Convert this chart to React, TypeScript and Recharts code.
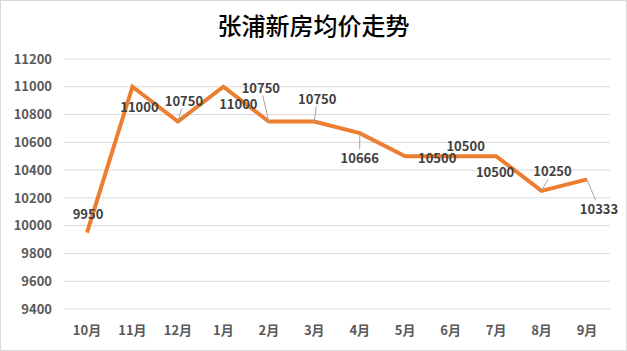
import React from "react";
import { LineChart, Line, XAxis, YAxis, CartesianGrid } from "recharts";

const months = ["10月", "11月", "12月", "1月", "2月", "3月", "4月", "5月", "6月", "7月", "8月", "9月"];
const prices = [9950, 11000, 10750, 11000, 10750, 10750, 10666, 10500, 10500, 10500, 10250, 10333];
const yTicks = [9400, 9600, 9800, 10000, 10200, 10400, 10600, 10800, 11000, 11200];

// label placement (styling): offset of label centre from its point, and whether a leader line is drawn
const labelDx = [1, 7, 6, 15, -8, 3, 0, 32, 15, -1, 11, 12];
const labelDy = [-19, 20, -21, 17, -34, -23, 24, 1, -11, 15, -20, 29];
const leader = [false, false, true, false, true, true, true, false, false, false, true, true];

const data = months.map((m, i) => ({ month: m, price: prices[i] }));

const FONT = "'Noto Sans CJK SC', 'Noto Sans', sans-serif";

const PriceLabel = (props: any) => {
  const { x, y, value, index } = props;
  const dx = labelDx[index];
  const dy = labelDy[index];
  const lx = x + dx;
  const ly = y + dy;
  let line = null;
  if (leader[index]) {
    const hw = 21;
    const hh = 8;
    const vx = x - lx;
    const vy = y - ly;
    const s = Math.min(vx !== 0 ? hw / Math.abs(vx) : Infinity, vy !== 0 ? hh / Math.abs(vy) : Infinity);
    if (s < 1) {
      const ex = lx + s * vx;
      const ey = ly + s * vy;
      line = <line x1={x} y1={y} x2={ex} y2={ey} stroke="#a6a6a6" strokeWidth={1} />;
    }
  }
  return (
    <g>
      {line}
      <text
        x={lx}
        y={ly}
        textAnchor="middle"
        dominantBaseline="central"
        fontSize={13}
        fontWeight="bold"
        fill="#404040"
        fontFamily={FONT}
      >
        {value}
      </text>
    </g>
  );
};

export default function App() {
  return (
    <div
      style={{
        position: "absolute",
        left: 0,
        top: 0,
        width: 627,
        height: 351,
        background: "#ffffff",
        boxSizing: "border-box",
        border: "1px solid #d9d9d9",
      }}
    >
      <div
        style={{
          position: "absolute",
          left: 0,
          top: 8,
          width: 625,
          textAlign: "center",
          fontFamily: FONT,
          fontSize: 24,
          lineHeight: "32px",
          fontWeight: 500,
          color: "#000000",
        }}
      >
        张浦新房均价走势
      </div>
      <div style={{ position: "absolute", left: -1, top: -1 }}>
        <LineChart
          width={627}
          height={351}
          data={data}
          margin={{ top: 59, right: 17, bottom: 12, left: 8 }}
        >
          <CartesianGrid vertical={false} stroke="#d9d9d9" strokeWidth={1} />
          <XAxis
            dataKey="month"
            axisLine={false}
            tickLine={false}
            tickMargin={11}
            height={30}
            interval={0}
            padding={{ left: 23, right: 23 }}
            tick={{ fill: "#595959", fontSize: 13, fontWeight: "bold", fontFamily: FONT }}
          />
          <YAxis
            domain={[9400, 11200]}
            ticks={yTicks}
            axisLine={false}
            tickLine={false}
            width={56}
            tickMargin={6}
            interval={0}
            tick={{ fill: "#595959", fontSize: 13, fontWeight: "bold", fontFamily: FONT }}
          />
          <Line
            type="linear"
            dataKey="price"
            stroke="#ED7D31"
            strokeWidth={4}
            dot={false}
            activeDot={false}
            isAnimationActive={false}
            label={<PriceLabel />}
          />
        </LineChart>
      </div>
    </div>
  );
}
